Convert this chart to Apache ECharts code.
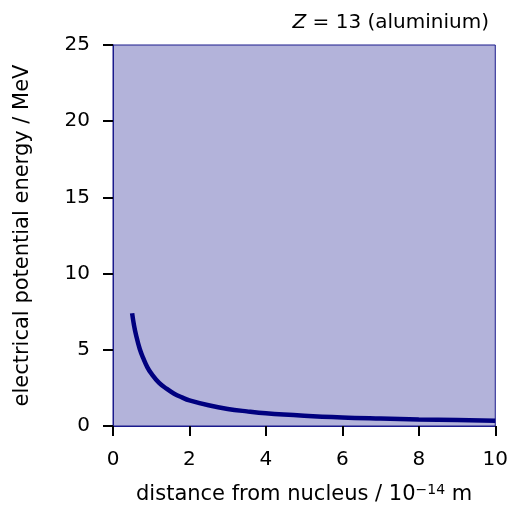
<!DOCTYPE html>
<html>
<head>
<meta charset="utf-8">
<script src="https://cdn.jsdelivr.net/npm/echarts@6/dist/echarts.min.js"></script>
<style>
  html, body { margin: 0; padding: 0; background: #fff; }
  #chart { width: 511px; height: 511px; }
</style>
</head>
<body>
<div id="chart"></div>
<script>
// distance from nucleus (10^-14 m) and energy (MeV)
var distance = [0.5, 0.55, 0.6, 0.7, 0.8, 0.9, 1.0, 1.2, 1.4, 1.6, 1.8, 2.0, 2.5, 3.0, 3.5, 4.0, 5.0, 6.0, 7.0, 8.0, 9.0, 10.0];
var energy   = [7.4, 6.6, 6.0, 5.05, 4.4, 3.85, 3.45, 2.85, 2.45, 2.12, 1.88, 1.68, 1.36, 1.12, 0.96, 0.83, 0.67, 0.56, 0.49, 0.43, 0.39, 0.35];
var xTicks = [0, 2, 4, 6, 8, 10];
var yTicks = [0, 5, 10, 15, 20, 25];

var chart = echarts.init(document.getElementById('chart'));
var font = 'DejaVu Sans, sans-serif';

chart.setOption({
  animation: false,
  backgroundColor: '#fff',
  title: {
    text: '{i|Z} = 13 (aluminium)',
    right: 17,
    top: 8,
    textStyle: {
      fontFamily: font,
      fontSize: 20,
      fontWeight: 'normal',
      color: '#000',
      rich: {
        i: { fontFamily: font, fontSize: 20, fontStyle: 'italic', color: '#000' }
      }
    }
  },
  grid: {
    left: 113,
    right: 15,
    top: 45,
    bottom: 85,
    show: true,
    backgroundColor: '#b3b3da',
    borderColor: '#1a1a8c',
    borderWidth: 1
  },
  xAxis: {
    type: 'value',
    min: xTicks[0],
    max: xTicks[xTicks.length - 1],
    interval: 2,
    name: 'distance from nucleus / 10{sup|−14} m',
    nameLocation: 'middle',
    nameGap: 57,
    nameTextStyle: {
      fontFamily: font,
      fontSize: 21,
      color: '#000',
      rich: {
        sup: { fontFamily: font, fontSize: 14, verticalAlign: 'top', padding: [0, 0, 10, 0], color: '#000' }
      }
    },
    axisLine: { show: true, lineStyle: { color: '#1a1a8c', width: 1 } },
    axisTick: { show: true, length: 10, lineStyle: { color: '#000', width: 2 } },
    axisLabel: { fontFamily: font, fontSize: 20, color: '#000', margin: 24 },
    splitLine: { show: false }
  },
  yAxis: {
    type: 'value',
    min: yTicks[0],
    max: yTicks[yTicks.length - 1],
    interval: 5,
    name: 'electrical potential energy / MeV',
    nameLocation: 'middle',
    nameGap: 80,
    nameTextStyle: { fontFamily: font, fontSize: 21, color: '#000' },
    axisLine: { show: true, lineStyle: { color: '#1a1a8c', width: 1 } },
    axisTick: { show: true, length: 10, lineStyle: { color: '#000', width: 2 } },
    axisLabel: { fontFamily: font, fontSize: 20, color: '#000', margin: 23 },
    splitLine: { show: false }
  },
  series: [
    {
      type: 'line',
      smooth: 0.4,
      symbol: 'none',
      data: distance.map(function (d, i) { return [d, energy[i]]; }),
      lineStyle: { color: '#00007f', width: 4.5 }
    }
  ]
});
</script>
</body>
</html>
